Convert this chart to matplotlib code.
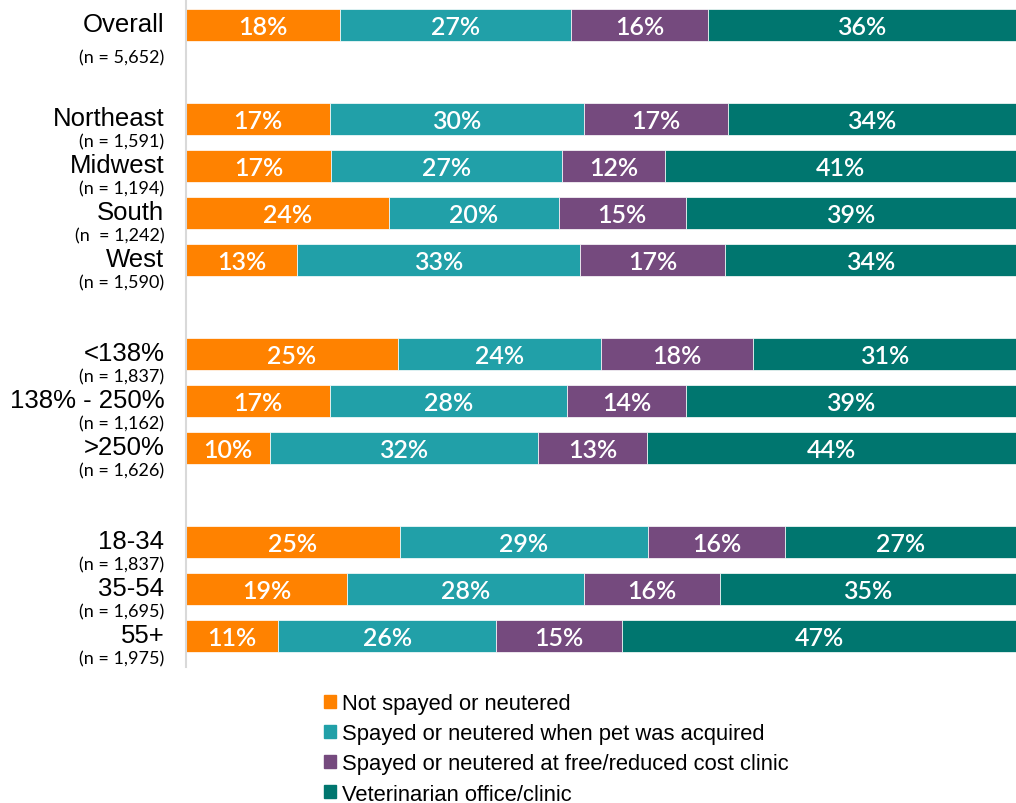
import numpy as np
import matplotlib.pyplot as plt
from matplotlib.patches import Patch

groups = ["Overall", "Northeast", "Midwest", "South", "West",
          "<138%", "138% - 250%", ">250%", "18-34", "35-54", "55+"]
sizes = ["(n = 5,652)", "(n = 1,591)", "(n = 1,194)", "(n  = 1,242)", "(n = 1,590)",
         "(n = 1,837)", "(n = 1,162)", "(n = 1,626)", "(n = 1,837)", "(n = 1,695)", "(n = 1,975)"]
rows = [0, 2, 3, 4, 5, 7, 8, 9, 11, 12, 13]

not_fixed = [18, 17, 17, 24, 13, 25, 17, 10, 25, 19, 11]
at_acquire = [27, 30, 27, 20, 33, 24, 28, 32, 29, 28, 26]
low_cost = [16, 17, 12, 15, 17, 18, 14, 13, 16, 16, 15]
vet = [36, 34, 41, 39, 34, 31, 39, 44, 27, 35, 47]

series = [
    ("Not spayed or neutered", not_fixed, "#ff8200"),
    ("Spayed or neutered when pet was acquired", at_acquire, "#21a0a8"),
    ("Spayed or neutered at free/reduced cost clinic", low_cost, "#754a7e"),
    ("Veterinarian office/clinic", vet, "#00766f"),
]

fig = plt.figure(figsize=(10.16, 8.04), dpi=100)
ax = fig.add_axes([186 / 1016, 1 - 668 / 804, 1 - 186 / 1016, 668 / 804])

# each row is stretched to the full width, labels keep the rounded values
totals = np.sum([s[1] for s in series], axis=0)
left = np.zeros(len(rows))
for name, vals, color in series:
    vals = np.array(vals, dtype=float)
    w = vals / totals * 100
    ax.barh(rows, w, left=left, height=0.7, color=color, edgecolor="white", linewidth=0.5)
    for y, l, wi, v in zip(rows, left, w, vals):
        ax.text(l + wi / 2, y + 0.03, f"{int(v)}%", ha="center", va="center",
                color="white", fontsize=18, family="Lato", fontweight="semibold")
    left += w

ax.set_xlim(0, 100)
ax.set_ylim(13.66, -0.553)
ax.set_xticks([])
ax.set_yticks([])
for s in ["top", "right", "bottom"]:
    ax.spines[s].set_visible(False)
ax.spines["left"].set_color("#d9d9d9")
ax.spines["left"].set_linewidth(1.5)

for i, (y, g, n) in enumerate(zip(rows, groups, sizes)):
    dy = 0.68 if i == 0 else 0.47
    ax.text(-2.6, y - 0.02, g, ha="right", va="center", fontsize=18.5,
            family="Liberation Sans", clip_on=False)
    ax.text(-2.6, y + dy, n, ha="right", va="center", fontsize=13,
            family="Lato", clip_on=False)

handles = [Patch(color=c, label=n) for n, _, c in series]
fig.legend(handles=handles, loc="upper left", bbox_to_anchor=(324 / 1016, 1 - 694 / 804),
           frameon=False, prop={"family": "Liberation Sans", "size": 15.8},
           handlelength=0.55, handleheight=0.55, handletextpad=0.25,
           labelspacing=0.42, borderaxespad=0, borderpad=0)

fig.savefig("out.png", dpi=100)
